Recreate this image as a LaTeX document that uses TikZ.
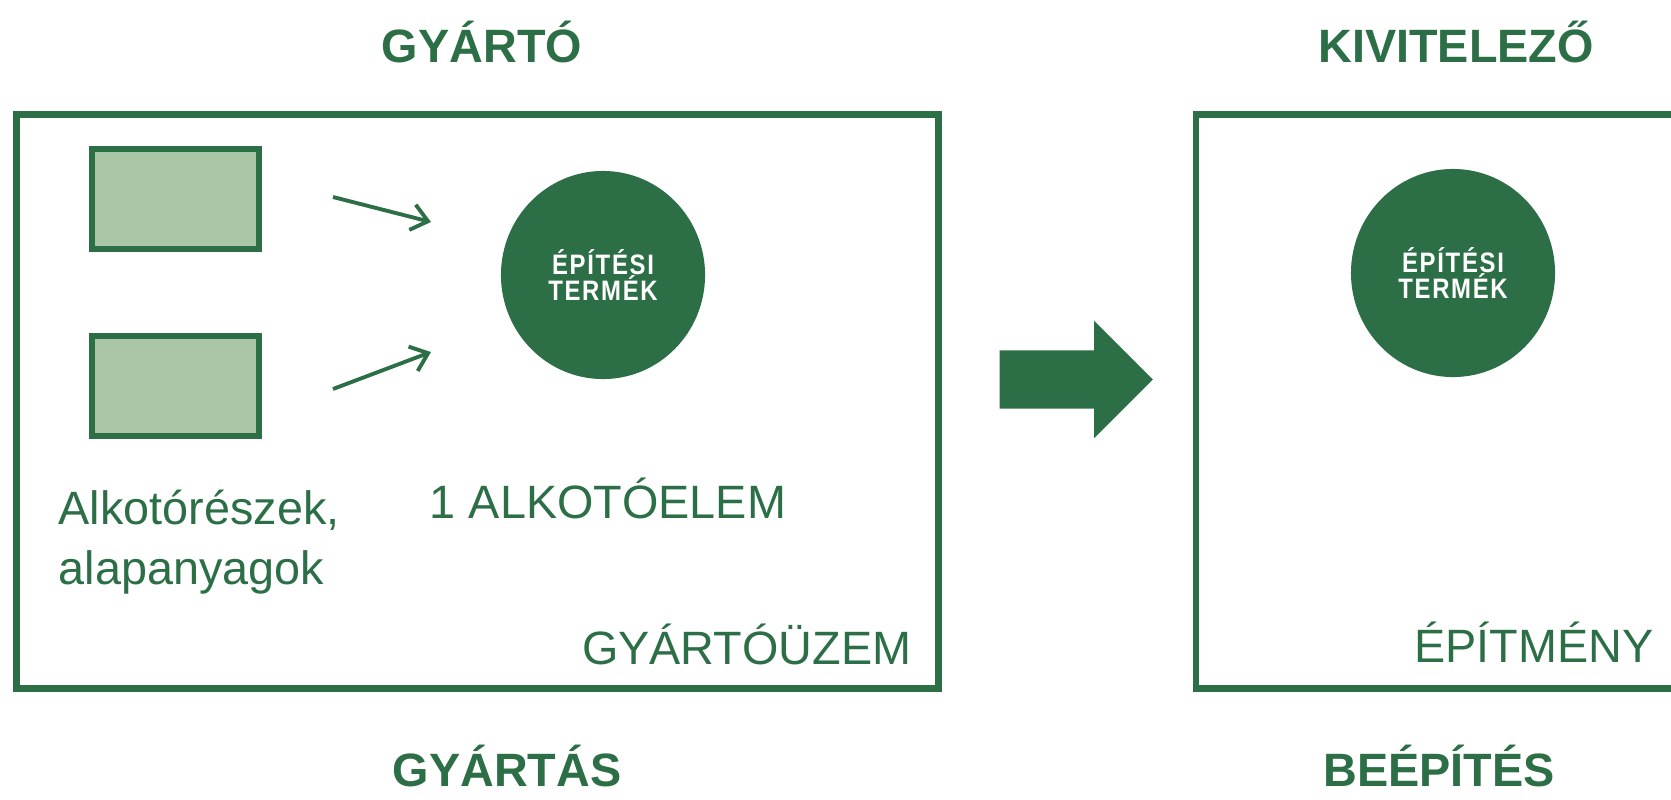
\documentclass[tikz,border=0pt]{standalone}
\usepackage{fontspec}
\setmainfont{Liberation Sans}
\newfontfamily\tagfont{Liberation Sans}[FakeStretch=0.85, LetterSpace=6]
\usepackage{tikz}
\usetikzlibrary{shapes.geometric,shapes.arrows,arrows.meta,positioning}

\definecolor{plantgreen}{RGB}{44,111,71}
\definecolor{partgreen}{RGB}{170,198,166}

\begin{document}
\begin{tikzpicture}[
    x=0.01cm, y=-0.01cm,
    site/.style={rectangle, draw=plantgreen, line width=1.9pt, inner sep=0pt, minimum height=5.735cm},
    part/.style={rectangle, draw=plantgreen, fill=partgreen, line width=1.8pt, minimum width=1.67cm, minimum height=1cm, inner sep=0pt},
    product/.style={ellipse, fill=plantgreen, text=white, minimum width=2.04cm, minimum height=2.08cm, inner sep=0pt, align=center, font=\tagfont\fontsize{8}{7.6}\selectfont\bfseries},
    title/.style={text=plantgreen, inner sep=0pt, font=\fontsize{13.3}{16}\selectfont\bfseries},
    note/.style={text=plantgreen, inner sep=0pt, font=\fontsize{13.3}{16.8}\selectfont},
    flow/.style={single arrow, fill=plantgreen, inner sep=0pt, text height=0.285cm, text depth=0.285cm, minimum height=1.53cm, single arrow head extend=0.295cm},
    arrow/.style={-{Straight Barb[length=1.6mm, width=2.6mm]}, line width=1.1pt, plantgreen}
]
\useasboundingbox (0,0) rectangle (1671,799);
\clip (0,0) rectangle (1671,799);

% Manufacturer side
\node[title, anchor=base] (maker) at (482,62) {GYÁRTÓ};
\node[site, minimum width=9.21cm] (plant) at (477.5,401.25) {};
\node[part] (part1) at (175.5,199) {};
\node[part] (part2) at (175.5,386) {};
\node[product] (prod1) at (603,275) {ÉPÍTÉSI\\TERMÉK};
\node[note, anchor=base west, align=left] (parts) at (58,584) {Alkotórészek,\\alapanyagok};
\node[note, anchor=base] (element) at (608,518) {1 ALKOTÓELEM};
\node[note, anchor=base east] (plantname) at (912,664) {GYÁRTÓÜZEM};
\node[title, anchor=base] (making) at (507,786) {GYÁRTÁS};

% Parts into product
\coordinate (from1) at (333,197);
\coordinate (to1) at (431,222);
\coordinate (from2) at (333,389);
\coordinate (to2) at (431,352);
\draw[arrow] (from1) -- (to1);
\draw[arrow] (from2) -- (to2);

% Handover
\node[flow, anchor=tail] (handover) at (999,379.5) {};

% Contractor side
\node[title, anchor=base] (builder) at (1456,62) {KIVITELEZŐ};
\node[site, minimum width=5.54cm] (building) at (1473,401.25) {};
\node[product] (prod2) at (1453,273) {ÉPÍTÉSI\\TERMÉK};
\node[note, anchor=base east] (buildname) at (1654,662) {ÉPÍTMÉNY};
\node[title, anchor=base] (install) at (1439,786) {BEÉPÍTÉS};

\end{tikzpicture}
\end{document}
